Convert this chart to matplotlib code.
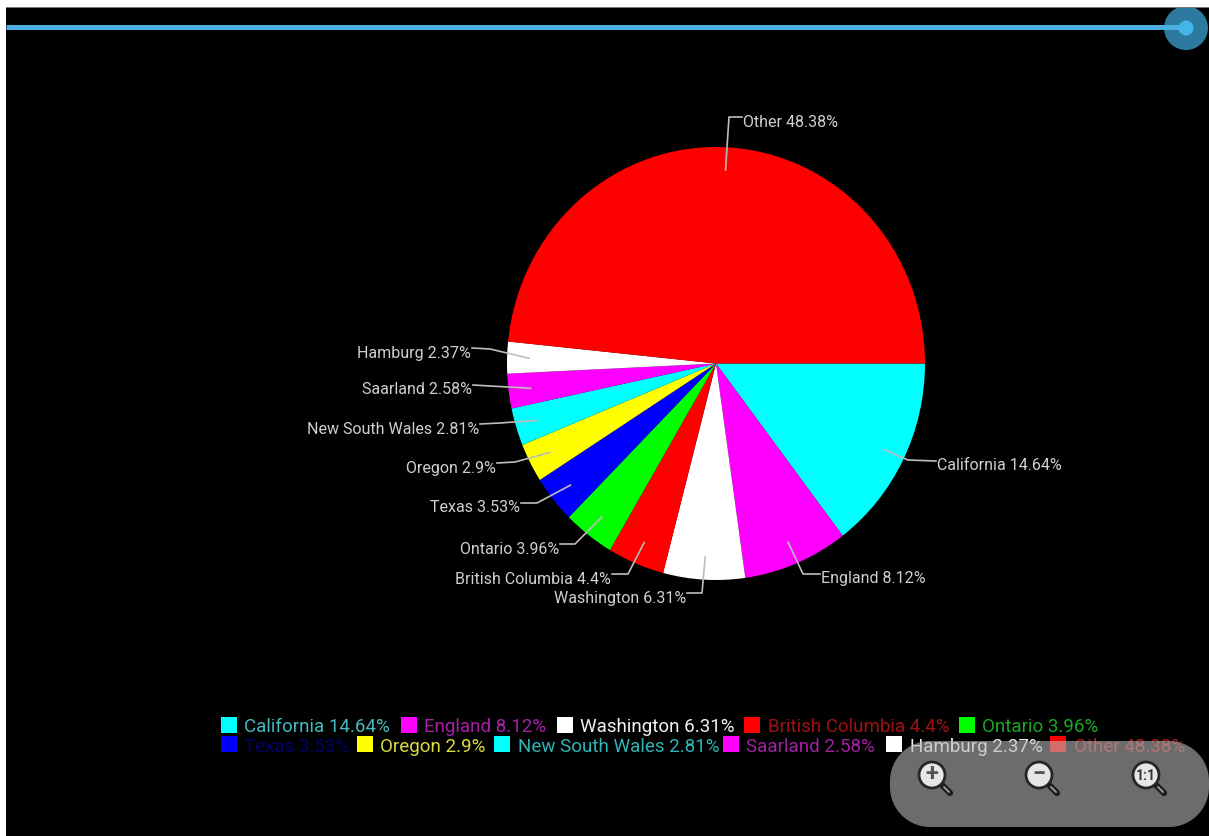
import numpy as np
import matplotlib
matplotlib.use("Agg")
import matplotlib.pyplot as plt
from matplotlib.patches import Circle, Polygon, Rectangle

regions = ["California", "England", "Washington", "British Columbia", "Ontario", "Texas",
           "Oregon", "New South Wales", "Saarland", "Hamburg", "Other"]
shares = [14.64, 8.12, 6.31, 4.4, 3.96, 3.53, 2.9, 2.81, 2.58, 2.37, 48.38]
slice_colors = ["#00ffff", "#ff00ff", "#ffffff", "#ff0000", "#00ff00", "#0000ff",
                "#ffff00", "#00ffff", "#ff00ff", "#ffffff", "#ff0000"]
legend_text_colors = ["#45b8c0", "#a81fa8", "#f2f2f2", "#a01212", "#1fa52a", "#00006e",
                      "#dcdc3c", "#2fb4b8", "#a022a0", "#f0f0f0", "#b01818"]

W, H = 1209, 837
CX, CY, RX, RY = 716, 364.5, 209, 216.5

# Elbow of each leader line and where it meets its label
elbows = [(908, 461), (803, 575), (702, 594), (628, 575), (575, 545), (537, 504),
          (515, 463), (500, 424), (490, 387), (490, 350), (729, 118)]
line_ends = [(936, 462), (820, 575), (687, 594), (612, 575), (560, 545), (521, 504),
             (497, 464), (480, 425), (473, 386), (472, 349), (742, 118)]

# Legend rows: swatch left edges and row membership
legend_x = [221, 401, 557, 744, 959, 221, 357, 494, 723, 886, 1050]
legend_y = [726, 726, 726, 726, 726, 745, 745, 745, 745, 745, 745]

plt.rcParams["font.family"] = ["Roboto", "DejaVu Sans"]
fig = plt.figure(figsize=(W / 100, H / 100), dpi=100, facecolor="black")

ax = fig.add_axes([0, 0, 1, 1])
ax.set_xlim(0, W)
ax.set_ylim(H, 0)
ax.set_axis_off()

# The pie has its own axes so that its slightly tall ellipse follows the box
pie_ax = fig.add_axes([(CX - RX) / W, 1 - (CY + RY) / H, 2 * RX / W, 2 * RY / H], zorder=-1)
pie_ax.pie(shares, colors=slice_colors, startangle=0, counterclock=False,
           radius=1, wedgeprops={"linewidth": 0})
pie_ax.set_xlim(-1, 1)
pie_ax.set_ylim(-1, 1)
pie_ax.set_aspect("auto")
ax.patch.set_alpha(0)

# Leader lines and value labels
cumulative = np.cumsum([0] + shares[:-1])
for i, (name, val) in enumerate(zip(regions, shares)):
    mid = np.deg2rad((cumulative[i] + val / 2) * 3.6)
    start = (CX + 0.895 * RX * np.cos(mid), CY + 0.895 * RY * np.sin(mid))
    ex, ey = elbows[i]
    lx, ly = line_ends[i]
    ax.plot([start[0], ex, lx], [start[1], ey, ly], color="#bdbdbd", lw=1.2, zorder=3,
            solid_joinstyle="round")
    right_side = lx > ex
    ax.text(lx + (1 if right_side else -1), ly + 4, f"{name} {val}%", color="#cfcfcf",
            fontsize=11.5, ha="left" if right_side else "right", va="center", zorder=4)

# Legend
for i, (name, val) in enumerate(zip(regions, shares)):
    x0, y0 = legend_x[i], legend_y[i]
    ax.add_patch(Rectangle((x0, y0 - 8), 15.5, 16, facecolor=slice_colors[i], edgecolor="none", zorder=4))
    ax.text(x0 + 23.5, y0 + 1.5, f"{name} {val}%", color=legend_text_colors[i], fontsize=13.5,
            ha="left", va="center", zorder=4)

# Translucent zoom control panel, overlapping the tail of the legend
px0, px1, py0, py1, pr = 890, 1209, 742, 828, 40
corners = [(px1 - pr, py1 - pr, 0), (px0 + pr, py1 - pr, 90),
           (px0 + pr, py0 + pr, 180), (px1 - pr, py0 + pr, 270)]
outline = []
for ccx, ccy, a0 in corners:
    t = np.deg2rad(np.linspace(a0, a0 + 90, 24))
    outline.extend(zip(ccx + pr * np.cos(t), ccy + pr * np.sin(t)))
ax.add_patch(Polygon(outline, closed=True, facecolor="#b6b6b6", edgecolor="none", alpha=0.6, zorder=6))

# Zoom icons
for cx, glyph in zip([932, 1039, 1146], ["+", "\u2212", "1:1"]):
    ax.plot([cx + 9, cx + 18], [776 + 9, 776 + 18], color="#1c1c1c", lw=4.5, solid_capstyle="round", zorder=7)
    ax.plot([cx + 12, cx + 17], [776 + 12, 776 + 17], color="#9a9a9a", lw=1.4, solid_capstyle="round", zorder=8)
    ax.add_patch(Circle((cx, 776), 13, facecolor="#e6e6e6", edgecolor="#262626", lw=2, zorder=8))
    if glyph == "1:1":
        ax.text(cx, 776, glyph, color="#333333", fontsize=10, fontweight="bold",
                ha="center", va="center", zorder=9)
    else:
        ax.text(cx, 775, glyph, color="#555555", fontsize=17, fontweight="bold",
                ha="center", va="center", zorder=9)

# Window edges left uncovered by the dark view
ax.add_patch(Rectangle((0, 0), W, 8, facecolor="white", edgecolor="none", zorder=10))
ax.add_patch(Rectangle((0, 0), 6, H, facecolor="white", edgecolor="none", zorder=10))
ax.add_patch(Rectangle((6, 7.5), W - 6, 1.2, facecolor="#777777", edgecolor="none", zorder=10))

# Slider along the top
ax.add_patch(Circle((1186, 29), 22, facecolor="#2c7aa0", edgecolor="none", zorder=5))
ax.plot([6, 1186], [28, 28], color="#4ab0e2", lw=3.6, solid_capstyle="butt", zorder=6)
ax.add_patch(Circle((1186, 29), 7.5, facecolor="#42b6ea", edgecolor="none", zorder=6))

fig.savefig("out.png", dpi=100, facecolor="black")
